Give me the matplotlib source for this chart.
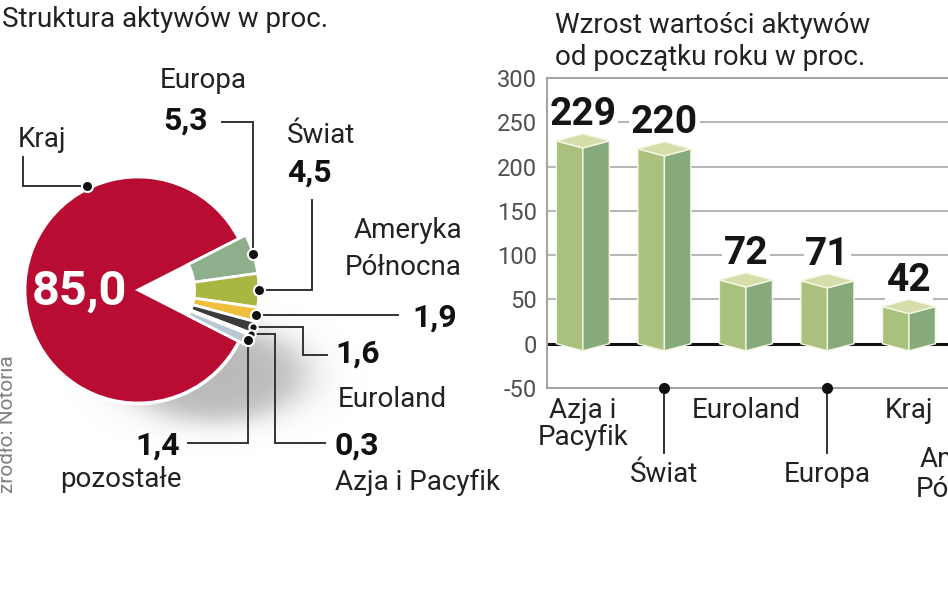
import numpy as np
import matplotlib
matplotlib.use('Agg')
import matplotlib.pyplot as plt
from matplotlib.patches import Wedge, Polygon, Circle
from matplotlib import transforms

plt.rcParams['font.family'] = ['Roboto', 'DejaVu Sans']

# left: structure of assets, in %
pie_labels = ['Kraj', 'Europa', 'Świat', 'Ameryka\nPółnocna', 'Euroland', 'Azja i Pacyfik', 'pozostałe']
pie_values = [85.0, 5.3, 4.5, 1.9, 1.6, 0.3, 1.4]
pie_colors = ['#b80c33', '#8fae8c', '#a9b742', '#efbe3a', '#3b3b3b', '#778899', '#b7c7d3']

# right: growth of assets since start of year, in %
bar_cats = ['Azja i\nPacyfik', 'Świat', 'Euroland', 'Europa', 'Kraj', 'Ameryka\nPółnocna']
bar_values = [229, 220, 72, 71, 42]
yticks = [-50, 0, 50, 100, 150, 200, 250, 300]


def pl(v):
    return f'{v:.1f}'.replace('.', ',')


W, H = 948, 593
fig = plt.figure(figsize=(W / 100, H / 100), dpi=100)

# ---------------- pie ----------------
PX, PY, R = 138, 290, 113
axp = fig.add_axes([0, 0, 1, 1])

# soft shadow under the pie (blurred ellipse, lower right)
gx, gy = np.meshgrid(np.linspace(-1.2, 2.4, 360), np.linspace(-1.8, 0.6, 240))
dist = np.hypot((gx - 0.68) / 0.93, (gy + 0.75) / 0.49)
img = np.zeros(gx.shape + (4,))
img[..., :3] = 0.55
img[..., 3] = 0.5 * (1 - np.tanh((dist - 0.85) / 0.25)) * 0.6
axp.imshow(img, extent=(-1.2, 2.4, -1.8, 0.6), origin='lower', zorder=0, interpolation='bilinear')
axp.set_aspect('auto')
axp.set_xlim(-PX / R, (W - PX) / R)
axp.set_ylim(-(H - PY) / R, PY / R)
axp.axis('off')
axp.add_patch(Circle((0, 0), 1.02, fc='white', ec='none', zorder=1))

top = sum(pie_values[1:]) * 3.6 / 2
axp.add_patch(Wedge((0, 0), 1, top, 360 - top, fc=pie_colors[0], ec='white', lw=2, zorder=2))
a = top
mids = []
for v, c in zip(pie_values[1:], pie_colors[1:]):
    a2 = a - v * 3.6
    axp.add_patch(Wedge((0, 0), 1.07, a2, a, width=0.57, fc=c, ec='white', lw=2, zorder=2))
    mids.append((a + a2) / 2)
    a = a2

# ---------------- overlay in pixels ----------------
ov = fig.add_axes([0, 0, 1, 1])
ov.set_xlim(0, W)
ov.set_ylim(H, 0)
ov.axis('off')
ov.patch.set_visible(False)


def pos(ang, r):
    return PX + R * r * np.cos(np.radians(ang)), PY - R * r * np.sin(np.radians(ang))


LC = '#333333'
TXT = '#222222'
FS = 20
VFS = 23


def leader(pts):
    xs, ys = zip(*pts)
    ov.plot(xs, ys, color=LC, lw=1.4, zorder=3, solid_joinstyle='miter')


def dot(x, y, ms=8):
    ov.plot(x, y, 'o', ms=ms, mfc='#111111', mec='white', mew=1.5, zorder=4)


# Kraj
kx, ky = pos(116, 1.02)
leader([(kx, ky), (23, ky), (23, 157)])
dot(kx, ky)
ov.text(18, 147, pie_labels[0], fontsize=FS, color=TXT, va='baseline')
ov.text(32, 305, pl(pie_values[0]), fontsize=35, fontweight='bold', color='white', va='baseline')

# Europa
x, y = pos(mids[0], 1.07)
leader([(x, y), (x, 122), (222, 122)])
dot(x, y)
ov.text(160, 88, pie_labels[1], fontsize=FS, color=TXT, va='baseline')
ov.text(208, 130, pl(pie_values[1]), fontsize=VFS, fontweight='bold', color='#111', va='baseline', ha='right')

# Swiat
x, y = pos(mids[1], 1.07)
leader([(x, y), (312, y), (312, 200)])
dot(x, y)
ov.text(287, 143, pie_labels[2], fontsize=FS, color=TXT, va='baseline')
ov.text(287, 182, pl(pie_values[2]), fontsize=VFS, fontweight='bold', color='#111', va='baseline')

# Ameryka Polnocna
x, y = pos(mids[2], 1.07)
leader([(x, y), (398, y)])
dot(x, y)
l1, l2 = pie_labels[3].split('\n')
ov.text(462, 238, l1, fontsize=FS, color=TXT, va='baseline', ha='right')
ov.text(462, 275, l2, fontsize=FS, color=TXT, va='baseline', ha='right')
ov.text(412, y + 12, pl(pie_values[3]), fontsize=VFS, fontweight='bold', color='#111', va='baseline')

# Euroland
x, y = pos(mids[3], 1.07)
leader([(x, y), (303, y), (303, 355), (327, 355)])
dot(x, y, 6)
ov.text(335, 363, pl(pie_values[4]), fontsize=VFS, fontweight='bold', color='#111', va='baseline')
ov.text(338, 407, pie_labels[4], fontsize=FS, color=TXT, va='baseline')

# Azja i Pacyfik
x, y = pos(mids[4], 1.07)
leader([(x, y), (275, y), (275, 443), (325, 443)])
dot(x, y, 6)
ov.text(335, 455, pl(pie_values[5]), fontsize=VFS, fontweight='bold', color='#111', va='baseline')
ov.text(335, 490, pie_labels[5], fontsize=FS, color=TXT, va='baseline')

# pozostale
x, y = pos(mids[5], 1.07)
leader([(x, y), (x, 443), (188, 443)])
dot(x, y)
ov.text(180, 455, pl(pie_values[6]), fontsize=VFS, fontweight='bold', color='#111', va='baseline', ha='right')
ov.text(182, 487, pie_labels[6], fontsize=FS, color=TXT, va='baseline', ha='right')

# titles and source
ov.text(2, 27, 'Struktura aktywów w proc.', fontsize=FS, color=TXT, va='baseline')
ov.text(555, 33, 'Wzrost wartości aktywów', fontsize=FS, color=TXT, va='baseline')
ov.text(555, 65, 'od początku roku w proc.', fontsize=FS, color=TXT, va='baseline')
ov.text(8, 493, 'źródło: Notoria', rotation=90, ha='center', va='bottom', fontsize=15, color='#808080')

# ---------------- bars ----------------
axb = fig.add_axes([547 / W, (H - 388) / H, (1072 - 547) / W, 310 / H])
axb.patch.set_visible(False)
axb.set_xlim(-0.44, 6.0)
axb.set_ylim(-50, 300)
for g in yticks[2:-1]:
    axb.axhline(g, color='#b8b8b8', lw=1.5, zorder=0.5)
axb.axhline(0, color='#111111', lw=2.2, zorder=1)
for s in ['top', 'left', 'bottom']:
    axb.spines[s].set_color('#a5a5a5')
    axb.spines[s].set_linewidth(1.5)
axb.spines['right'].set_visible(False)
axb.set_yticks(yticks)
axb.set_yticklabels([str(t) for t in yticks])
axb.tick_params(axis='y', length=0, pad=7, labelsize=17, labelcolor='#505050')
axb.set_xticks([])

hw, d = 0.325, 8
for i, v in enumerate(bar_values):
    left = [(i - hw, 0), (i, -d), (i, v - d), (i - hw, v)]
    right = [(i, -d), (i + hw, 0), (i + hw, v), (i, v - d)]
    cap = [(i - hw, v), (i, v + d), (i + hw, v), (i, v - d)]
    axb.add_patch(Polygon(left, closed=True, fc='#a9c17d', ec='#f4f8e4', lw=1, zorder=3))
    axb.add_patch(Polygon(right, closed=True, fc='#86aa7b', ec='#f4f8e4', lw=1, zorder=3))
    axb.add_patch(Polygon(cap, closed=True, fc='#d7ddaa', ec='#f4f8e4', lw=1, zorder=3))
    axb.text(i, v + 18, str(v), ha='center', va='baseline', fontsize=28, fontweight='bold',
             color='#151515', zorder=2, bbox=dict(fc='white', ec='none', pad=1))

tr = transforms.blended_transform_factory(axb.transData, ov.transData)
for i, cat in enumerate(bar_cats):
    lines = cat.split('\n')
    if i % 2 == 0:
        bases = [418, 445]
        xc = i
    else:
        bases = [482] if len(lines) == 1 else [467, 497]
        xc = i if len(lines) == 1 else i - 0.2
        axb.plot([i, i], [-50, -123], color='#333', lw=1.4, clip_on=False, zorder=4)
        axb.plot(i, -50, 'o', ms=7, color='#111', clip_on=False, zorder=5)
    for line, b in zip(lines, bases):
        ov.text(xc, b, line, transform=tr, ha='center', va='baseline', fontsize=FS, color=TXT)

fig.savefig('out.png', dpi=100)
